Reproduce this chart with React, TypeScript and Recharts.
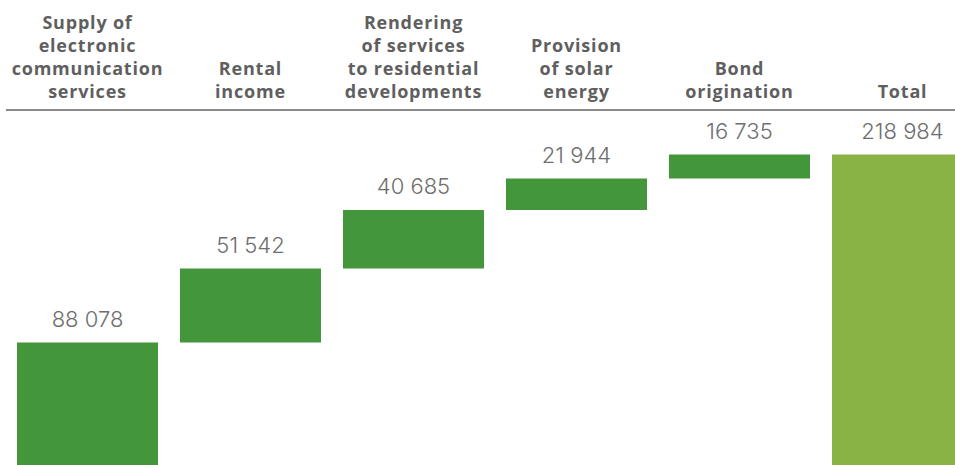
import { BarChart, Bar, XAxis, YAxis, LabelList, Cell } from 'recharts';

const categories = [
  'Supply of\nelectronic\ncommunication\nservices',
  'Rental\nincome',
  'Rendering\nof services\nto residential\ndevelopments',
  'Provision\nof solar\nenergy',
  'Bond\norigination',
  'Total',
];
const values = [88078, 51542, 40685, 21944, 16735, 218984];
const isTotal = [false, false, false, false, false, true];
const yTicks = [0, 50000, 100000, 150000, 200000, 250000];

// invisible base for each step, total starts at zero
const bases: number[] = [];
let running = 0;
values.forEach((v, i) => {
  bases.push(isTotal[i] ? 0 : running);
  if (!isTotal[i]) running += v;
});

const data = categories.map((name, i) => ({
  name,
  base: bases[i],
  value: values[i],
  total: isTotal[i],
}));

const fmt = (v: number) => String(v).replace(/\B(?=(\d{3})+(?!\d))/g, ' ');

function HeaderTick(props: any) {
  const { x, y, payload } = props;
  const lines = String(payload.value).split('\n');
  const n = lines.length;
  return (
    <text
      textAnchor="middle"
      fill="#5f5f5f"
      fontFamily="'Open Sans', sans-serif"
      fontWeight={700}
      fontSize={18}
      letterSpacing={0.8}
    >
      {lines.map((l, i) => (
        <tspan key={i} x={x} y={y - (n - 1 - i) * 23}>
          {l}
        </tspan>
      ))}
    </text>
  );
}

export default function App() {
  return (
    <div
      style={{
        position: 'absolute',
        left: 0,
        top: 0,
        width: 955,
        height: 465,
        overflow: 'hidden',
        background: '#fff',
      }}
    >
      <BarChart
        width={984}
        height={469}
        data={data}
        margin={{ top: 0, right: 0, bottom: 0, left: 6 }}
        barCategoryGap={11}
      >
        <XAxis
          dataKey="name"
          orientation="top"
          height={110}
          tickLine={false}
          tickSize={0}
          tickMargin={12}
          axisLine={{ stroke: '#8a8a8a', strokeWidth: 2 }}
          tick={<HeaderTick />}
          interval={0}
        />
        <YAxis hide domain={[0, 250000]} ticks={yTicks} />
        <Bar dataKey="base" stackId="w" fill="transparent" isAnimationActive={false} />
        <Bar dataKey="value" stackId="w" isAnimationActive={false}>
          {data.map((d, i) => (
            <Cell key={i} fill={d.total ? '#8ab346' : '#43963a'} />
          ))}
          <LabelList
            dataKey="value"
            position="top"
            offset={16}
            formatter={(v: any) => fmt(Number(v))}
            fill="#6e6e6e"
            fontSize={22}
            fontFamily="Inter, sans-serif"
            fontWeight={300}
          />
        </Bar>
      </BarChart>
    </div>
  );
}
